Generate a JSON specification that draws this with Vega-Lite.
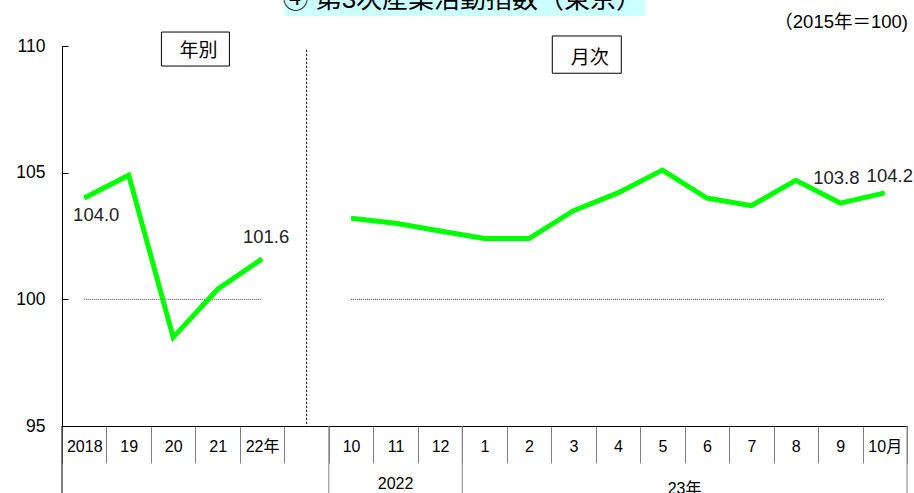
{
  "$schema": "https://vega.github.io/schema/vega-lite/v6.json",
  "width": 845,
  "height": 380,
  "autosize": {"type": "none"},
  "padding": {"left": 62, "top": 46, "right": 7, "bottom": 67},
  "background": "white",
  "config": {"font": "Liberation Sans, Noto Sans CJK JP, sans-serif", "view": {"stroke": null}},
  "data": {"values": [{}]},
  "datasets": {
    "series": [
      {"cat": "2018", "group": "annual", "value": 104.0},
      {"cat": "19", "group": "annual", "value": 104.9},
      {"cat": "20", "group": "annual", "value": 98.5},
      {"cat": "21", "group": "annual", "value": 100.4},
      {"cat": "22年", "group": "annual", "value": 101.6},
      {"cat": "10", "group": "monthly", "value": 103.2},
      {"cat": "11", "group": "monthly", "value": 103.0},
      {"cat": "12", "group": "monthly", "value": 102.7},
      {"cat": "1", "group": "monthly", "value": 102.4},
      {"cat": "2", "group": "monthly", "value": 102.4},
      {"cat": "3", "group": "monthly", "value": 103.5},
      {"cat": "4", "group": "monthly", "value": 104.2},
      {"cat": "5", "group": "monthly", "value": 105.1},
      {"cat": "6", "group": "monthly", "value": 104.0},
      {"cat": "7", "group": "monthly", "value": 103.7},
      {"cat": "8", "group": "monthly", "value": 104.7},
      {"cat": "9", "group": "monthly", "value": 103.8},
      {"cat": "10月", "group": "monthly", "value": 104.2}
    ],
    "seps": [
      {"cat": "10"},
      {"cat": "1"}
    ]
  },
  "layer": [
    {
      "data": {"name": "series"},
      "mark": {"type": "line", "color": "#444444", "strokeWidth": 1, "strokeDash": [1, 1]},
      "encoding": {
        "x": {
          "field": "cat", "type": "nominal",
          "scale": {"type": "band", "paddingInner": 0, "paddingOuter": 0,
            "domain": ["2018", "19", "20", "21", "22年", " ", "10", "11", "12", "1", "2", "3", "4", "5", "6", "7", "8", "9", "10月"]},
          "axis": {
            "title": null, "grid": false, "tickBand": "extent", "tickSize": 37, "tickColor": "#808080",
            "domainColor": "black", "labelFontSize": 16, "labelColor": "black", "labelPadding": -17,
            "labelBaseline": "middle", "labelAngle": 0, "labelOverlap": false, "labelBound": false, "labelFlush": false
          }
        },
        "y": {
          "datum": 100, "type": "quantitative",
          "scale": {"domain": [95, 110], "nice": false, "zero": false},
          "axis": {
            "title": null, "grid": false, "values": [95, 100, 105, 110], "tickSize": -6, "tickColor": "black",
            "domainColor": "black", "labelFontSize": 17.5, "labelColor": "black", "labelPadding": 23
          }
        },
        "detail": {"field": "group"}
      }
    },
    {
      "data": {"name": "series"},
      "mark": {"type": "line", "color": "#00ff00", "strokeWidth": 5},
      "encoding": {
        "x": {"field": "cat", "type": "nominal"},
        "y": {"field": "value", "type": "quantitative"},
        "detail": {"field": "group"}
      }
    },
    {
      "mark": {"type": "rule", "color": "black", "strokeWidth": 1, "strokeDash": [2, 2]},
      "encoding": {
        "x": {"datum": " "},
        "y": {"datum": 109.85},
        "y2": {"datum": 95}
      }
    },
    {
      "mark": {"type": "rule", "color": "black", "strokeWidth": 1},
      "encoding": {
        "x": {"datum": "2018", "bandPosition": 0},
        "y": {"datum": 95},
        "y2": {"datum": 92.3}
      }
    },
    {
      "data": {"name": "seps"},
      "mark": {"type": "rule", "color": "#808080", "strokeWidth": 1},
      "encoding": {
        "x": {"field": "cat", "type": "nominal", "bandPosition": 0},
        "y": {"datum": 95},
        "y2": {"datum": 92.3}
      }
    },
    {
      "mark": {"type": "rule", "color": "#808080", "strokeWidth": 1},
      "encoding": {
        "x": {"datum": "10月", "bandPosition": 1},
        "y": {"datum": 95},
        "y2": {"datum": 92.3}
      }
    },
    {
      "data": {"name": "series"},
      "transform": [{"filter": "datum.cat == '2018'"}],
      "mark": {"type": "text", "fontSize": 18.5, "color": "#222222", "dx": 12, "dy": 17},
      "encoding": {
        "x": {"field": "cat", "type": "nominal"},
        "y": {"field": "value", "type": "quantitative"},
        "text": {"field": "value", "type": "quantitative", "format": ".1f"}
      }
    },
    {
      "data": {"name": "series"},
      "transform": [{"filter": "datum.cat == '22年'"}],
      "mark": {"type": "text", "fontSize": 18.5, "color": "#222222", "dx": 4, "dy": -22},
      "encoding": {
        "x": {"field": "cat", "type": "nominal"},
        "y": {"field": "value", "type": "quantitative"},
        "text": {"field": "value", "type": "quantitative", "format": ".1f"}
      }
    },
    {
      "data": {"name": "series"},
      "transform": [{"filter": "datum.cat == '9'"}],
      "mark": {"type": "text", "fontSize": 18.5, "color": "#222222", "dx": -4, "dy": -25},
      "encoding": {
        "x": {"field": "cat", "type": "nominal"},
        "y": {"field": "value", "type": "quantitative"},
        "text": {"field": "value", "type": "quantitative", "format": ".1f"}
      }
    },
    {
      "data": {"name": "series"},
      "transform": [{"filter": "datum.cat == '10月'"}],
      "mark": {"type": "text", "fontSize": 18.5, "color": "#222222", "dx": 5, "dy": -17},
      "encoding": {
        "x": {"field": "cat", "type": "nominal"},
        "y": {"field": "value", "type": "quantitative"},
        "text": {"field": "value", "type": "quantitative", "format": ".1f"}
      }
    },
    {
      "mark": {"type": "text", "fontSize": 16, "color": "black", "baseline": "middle"},
      "encoding": {
        "x": {"datum": "11"},
        "y": {"datum": 92.7},
        "text": {"value": "2022"}
      }
    },
    {
      "mark": {"type": "text", "fontSize": 16, "color": "black", "baseline": "middle"},
      "encoding": {
        "x": {"datum": "5", "bandPosition": 1},
        "y": {"datum": 92.5},
        "text": {"value": "23年"}
      }
    },
    {
      "mark": {"type": "point", "shape": "M-1,-0.5L1,-0.5L1,0.5L-1,0.5Z", "size": 4624, "filled": false, "stroke": "black", "strokeWidth": 1, "opacity": 1},
      "encoding": {
        "x": {"datum": "20", "bandPosition": 1},
        "y": {"datum": 109.88}
      }
    },
    {
      "mark": {"type": "text", "fontSize": 19, "color": "black", "baseline": "middle", "dx": 3},
      "encoding": {
        "x": {"datum": "20", "bandPosition": 1},
        "y": {"datum": 109.8},
        "text": {"value": "年別"}
      }
    },
    {
      "mark": {"type": "point", "shape": "M-1,-0.54L1,-0.54L1,0.54L-1,0.54Z", "size": 4761, "filled": false, "stroke": "black", "strokeWidth": 1, "opacity": 1},
      "encoding": {
        "x": {"datum": "3", "bandPosition": 0.8},
        "y": {"datum": 109.66}
      }
    },
    {
      "mark": {"type": "text", "fontSize": 19, "color": "black", "baseline": "middle", "dx": 3},
      "encoding": {
        "x": {"datum": "3", "bandPosition": 0.8},
        "y": {"datum": 109.53},
        "text": {"value": "月次"}
      }
    },
    {
      "mark": {"type": "rect", "color": "#ccffff", "x2Offset": -17},
      "encoding": {
        "x": {"datum": " ", "bandPosition": 0},
        "x2": {"datum": "5"},
        "y": {"datum": 113},
        "y2": {"datum": 111.18}
      }
    },
    {
      "mark": {"type": "text", "fontSize": 26, "color": "black", "baseline": "alphabetic"},
      "encoding": {
        "x": {"datum": "12", "bandPosition": 1},
        "y": {"datum": 111.5},
        "text": {"value": "④ 第3次産業活動指数（東京）"}
      }
    },
    {
      "mark": {"type": "text", "fontSize": 18.5, "color": "black", "baseline": "middle", "align": "right", "dx": 1},
      "encoding": {
        "x": {"datum": "10月", "bandPosition": 1},
        "y": {"datum": 110.96},
        "text": {"value": "（2015年＝100)"}
      }
    }
  ]
}
